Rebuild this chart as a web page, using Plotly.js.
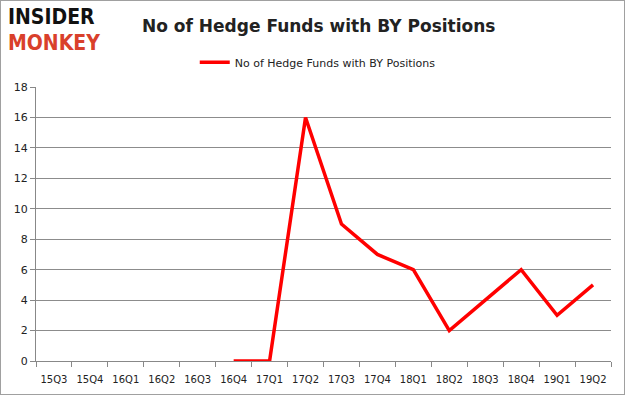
<!DOCTYPE html>
<html><head><meta charset="utf-8">
<script src="https://cdn.plot.ly/plotly-3.0.1.min.js"></script>
<style>html,body{margin:0;padding:0;background:#fff}#c{width:625px;height:395px;box-sizing:border-box;border:1px solid #a0a0a0}</style>
</head><body><div id="c"></div>
<script>
const quarters = ["15Q3","15Q4","16Q1","16Q2","16Q3","16Q4","17Q1","17Q2","17Q3","17Q4","18Q1","18Q2","18Q3","18Q4","19Q1","19Q2"];
const funds = [null,null,null,null,null,0,0,16,9,7,6,2,4,6,3,5];
const seriesName = "No of Hedge Funds with BY Positions";
const yTicks = [0,2,4,6,8,10,12,14,16,18];

Plotly.newPlot("c", [{
  x: quarters, y: funds, type: "scatter", mode: "lines", name: seriesName,
  line: {color: "#ff0000", width: 3.5}, connectgaps: false
}], {
  width: 623, height: 393,
  margin: {l: 35, r: 13, t: 86, b: 33},
  paper_bgcolor: "#fff", plot_bgcolor: "#fff",
  font: {family: "DejaVu Sans, Verdana, sans-serif", size: 10, color: "#222"},
  title: {text: "<b>No of Hedge Funds with BY Positions</b>", x: 0.51, xanchor: "center", y: 0.935, yanchor: "middle",
    font: {size: 17, color: "#222", family: "DejaVu Sans, Verdana, sans-serif"}},
  showlegend: true,
  legend: {orientation: "h", x: 0.49, xanchor: "center", y: 1.09, yanchor: "middle", font: {size: 11}},
  xaxis: {type: "category", range: [-0.5, 15.5], showgrid: false, showline: true, linecolor: "#888", ticks: "outside", ticklen: 5, tickcolor: "#888",
    tickson: "boundaries", tickangle: 0, ticklabelstandoff: 9, tickfont: {size: 10}, fixedrange: true},
  yaxis: {range: [0, 18], tickvals: yTicks, showgrid: true, gridcolor: "#8c8c8c", gridwidth: 1, showline: true, linecolor: "#888",
    ticks: "outside", ticklen: 5, tickcolor: "#888", zeroline: false, tickfont: {size: 11}},
  annotations: [
    {text: "<b>INSIDER</b>", xref: "paper", yref: "paper", x: -0.052, y: 1.255, xanchor: "left", yanchor: "middle", showarrow: false,
     font: {family: "DejaVu Sans Condensed, DejaVu Sans, sans-serif", size: 21, color: "#111"}},
    {text: "<b>MONKEY</b>", xref: "paper", yref: "paper", x: -0.052, y: 1.16, xanchor: "left", yanchor: "middle", showarrow: false,
     font: {family: "DejaVu Sans Condensed, DejaVu Sans, sans-serif", size: 21, color: "#d9402b"}}
  ]
}, {displayModeBar: false, staticPlot: true});
</script></body></html>
